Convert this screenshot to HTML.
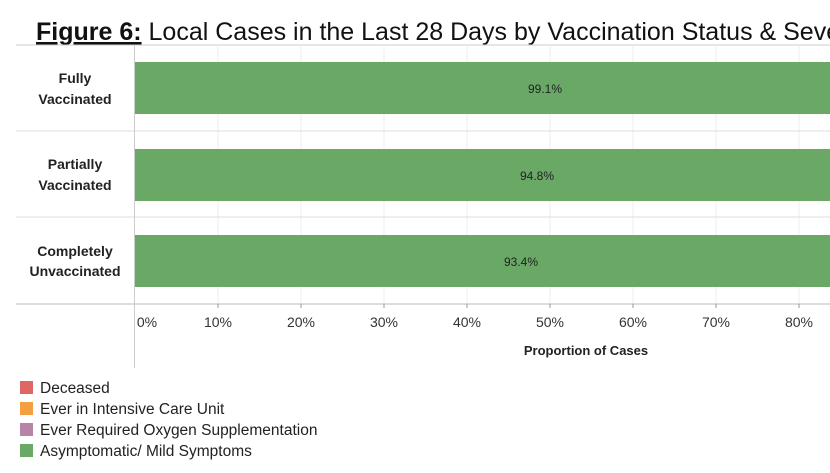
<!DOCTYPE html>
<html><head><meta charset="utf-8"><style>
body{margin:0;width:830px;height:468px;overflow:hidden;background:#fff;font-family:"Liberation Sans",sans-serif}
</style></head><body>
<svg width="830" height="468" xmlns="http://www.w3.org/2000/svg" font-family="Liberation Sans, sans-serif">
<text x="36" y="40" font-size="25" fill="#111"><tspan font-weight="bold" text-decoration="underline">Figure 6:</tspan> Local Cases in the Last 28 Days by Vaccination Status &amp; Severity</text>
<line x1="16" y1="45" x2="830" y2="45" stroke="#ccc"/>
<g stroke="#eee">
<line x1="218" y1="45" x2="218" y2="304"/><line x1="301" y1="45" x2="301" y2="304"/><line x1="384" y1="45" x2="384" y2="304"/><line x1="467" y1="45" x2="467" y2="304"/><line x1="550" y1="45" x2="550" y2="304"/><line x1="633" y1="45" x2="633" y2="304"/><line x1="716" y1="45" x2="716" y2="304"/><line x1="799" y1="45" x2="799" y2="304"/>
</g>
<line x1="16" y1="131" x2="830" y2="131" stroke="#ddd"/>
<line x1="16" y1="217" x2="830" y2="217" stroke="#ddd"/>
<line x1="16" y1="304" x2="830" y2="304" stroke="#bbb"/>
<line x1="134.5" y1="45" x2="134.5" y2="368" stroke="#ccc"/>
<rect x="135" y="62" width="695" height="52" fill="#6aa866"/>
<rect x="135" y="149" width="695" height="52" fill="#6aa866"/>
<rect x="135" y="235" width="695" height="52" fill="#6aa866"/>
<g font-size="12" fill="#222" text-anchor="middle">
<text x="545" y="93">99.1%</text><text x="537" y="180">94.8%</text><text x="521" y="266">93.4%</text>
</g>
<g font-size="14" font-weight="bold" fill="#222" text-anchor="middle">
<text x="75" y="83">Fully</text><text x="75" y="104">Vaccinated</text>
<text x="75" y="169">Partially</text><text x="75" y="190">Vaccinated</text>
<text x="75" y="256">Completely</text><text x="75" y="276">Unvaccinated</text>
</g>
<g stroke="#999"><line x1="218" y1="304" x2="218" y2="308"/><line x1="301" y1="304" x2="301" y2="308"/><line x1="384" y1="304" x2="384" y2="308"/><line x1="467" y1="304" x2="467" y2="308"/><line x1="550" y1="304" x2="550" y2="308"/><line x1="633" y1="304" x2="633" y2="308"/><line x1="716" y1="304" x2="716" y2="308"/><line x1="799" y1="304" x2="799" y2="308"/></g>
<g font-size="14" fill="#333" text-anchor="middle">
<text x="147" y="327">0%</text><text x="218" y="327">10%</text><text x="301" y="327">20%</text><text x="384" y="327">30%</text><text x="467" y="327">40%</text><text x="550" y="327">50%</text><text x="633" y="327">60%</text><text x="716" y="327">70%</text><text x="799" y="327">80%</text>
</g>
<text x="586" y="355" font-size="13" font-weight="bold" fill="#222" text-anchor="middle">Proportion of Cases</text>
<rect x="20" y="381" width="13" height="13" fill="#e06666"/>
<rect x="20" y="402" width="13" height="13" fill="#f4a040"/>
<rect x="20" y="423" width="13" height="13" fill="#b784a7"/>
<rect x="20" y="444" width="13" height="13" fill="#6aa866"/>
<g font-size="15.5" fill="#222">
<text x="40" y="393">Deceased</text><text x="40" y="414">Ever in Intensive Care Unit</text><text x="40" y="435">Ever Required Oxygen Supplementation</text><text x="40" y="456">Asymptomatic/ Mild Symptoms</text>
</g>
</svg>
</body></html>
